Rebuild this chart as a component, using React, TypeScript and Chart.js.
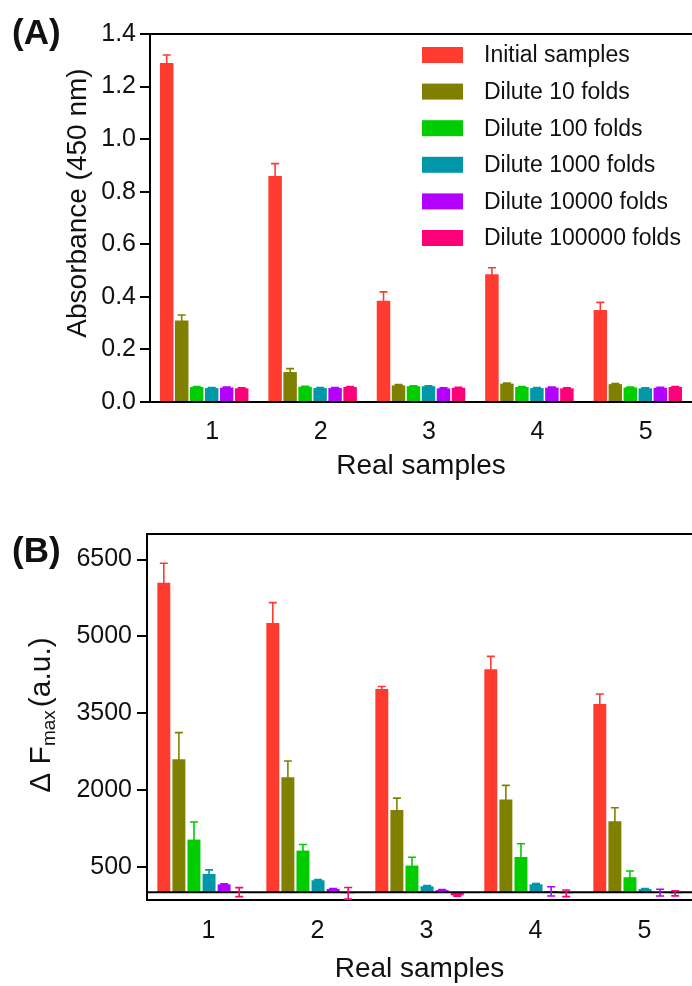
import React, { useEffect, useRef } from "react";
import { Chart, registerables } from "chart.js";

Chart.register(...registerables);

const FONT = "'Liberation Sans', Arial, Helvetica, sans-serif";

// ---------- shared ----------
const sampleLabels = ["1", "2", "3", "4", "5"];
const seriesNames = [
  "Initial samples",
  "Dilute 10 folds",
  "Dilute 100 folds",
  "Dilute 1000 folds",
  "Dilute 10000 folds",
  "Dilute 100000 folds",
];
const seriesColors = ["#ff3b30", "#808000", "#00cc00", "#0098a8", "#b400ff", "#ff0078"];

// ---------- panel (A): absorbance ----------
const absInitial = [1.29, 0.86, 0.385, 0.486, 0.35];
const absInitialErr = [0.03, 0.047, 0.034, 0.025, 0.029];
const abs10 = [0.31, 0.114, 0.063, 0.07, 0.068];
const abs10Err = [0.021, 0.013, 0.003, 0.002, 0.002];
const abs100 = [0.057, 0.058, 0.06, 0.057, 0.055];
const abs100Err = [0.002, 0.002, 0.002, 0.002, 0.002];
const abs1000 = [0.053, 0.053, 0.06, 0.053, 0.052];
const abs1000Err = [0.002, 0.002, 0.002, 0.002, 0.002];
const abs10000 = [0.055, 0.053, 0.052, 0.055, 0.054];
const abs10000Err = [0.002, 0.002, 0.002, 0.002, 0.002];
const abs100000 = [0.052, 0.057, 0.054, 0.052, 0.057];
const abs100000Err = [0.002, 0.002, 0.002, 0.002, 0.002];
const absTicks = [0, 0.2, 0.4, 0.6, 0.8, 1.0, 1.2, 1.4];

// ---------- panel (B): delta F max ----------
const fInitial = [6050, 5260, 3970, 4360, 3680];
const fInitialErr = [380, 400, 52, 250, 195];
const f10 = [2600, 2250, 1606, 1815, 1390];
const f10Err = [520, 315, 235, 275, 262];
const f100 = [1030, 816, 523, 690, 295];
const f100Err = [345, 118, 162, 260, 122];
const f1000 = [360, 235, 118, 156, 64];
const f1000Err = [78, 13, 13, 13, 8];
const f10000 = [155, 66, 45, 19, -6];
const f10000Err = [10, 10, 8, 91, 65];
const f100000 = [4, -20, -60, -20, -20];
const f100000Err = [88, 113, 15, 65, 50];
const fTicks = [500, 2000, 3500, 5000, 6500];

function makeDatasets(values: number[][], errors: number[][]) {
  return values.map((v, i) => ({
    label: seriesNames[i],
    data: v,
    errors: errors[i],
    backgroundColor: seriesColors[i],
    borderWidth: 0,
  }));
}

type Part = { text: string; size: number; shift: number; gap: number };

function makeDecor(cfg: any) {
  return {
    id: "decor",
    afterDatasetsDraw(chart: any) {
      const ctx = chart.ctx;
      const area = chart.chartArea;
      const y = chart.scales.y;
      ctx.save();
      if (cfg.zeroLine) {
        const y0 = y.getPixelForValue(0);
        ctx.strokeStyle = "#000";
        ctx.lineWidth = 2;
        ctx.beginPath();
        ctx.moveTo(area.left, y0);
        ctx.lineTo(area.right, y0);
        ctx.stroke();
      }
      ctx.beginPath();
      ctx.rect(area.left, area.top - 30, area.right - area.left, area.bottom - area.top + 30);
      ctx.clip();
      chart.data.datasets.forEach((ds: any, di: number) => {
        const meta = chart.getDatasetMeta(di);
        if (!ds.errors) return;
        meta.data.forEach((el: any, i: number) => {
          const v = ds.data[i];
          const e = ds.errors[i];
          const yt = y.getPixelForValue(v + e);
          const yb = y.getPixelForValue(v - e);
          const x = el.x;
          const c = cfg.cap;
          ctx.strokeStyle = ds.backgroundColor;
          ctx.lineWidth = 1.6;
          ctx.beginPath();
          ctx.moveTo(x, yt);
          ctx.lineTo(x, yb);
          ctx.moveTo(x - c, yt);
          ctx.lineTo(x + c, yt);
          ctx.moveTo(x - c, yb);
          ctx.lineTo(x + c, yb);
          ctx.stroke();
        });
      });
      ctx.restore();
    },
    afterDraw(chart: any) {
      const ctx = chart.ctx;
      const area = chart.chartArea;
      ctx.save();
      // top frame line
      ctx.strokeStyle = "#000";
      ctx.lineWidth = 2;
      ctx.beginPath();
      ctx.moveTo(area.left - 1, area.top);
      ctx.lineTo(chart.width, area.top);
      ctx.stroke();

      // legend
      if (cfg.legend) {
        const L = cfg.legend;
        ctx.font = `${L.size}px ${FONT}`;
        ctx.textBaseline = "middle";
        ctx.textAlign = "left";
        chart.data.datasets.forEach((ds: any, i: number) => {
          const cy = L.y + i * L.step;
          ctx.fillStyle = ds.backgroundColor;
          ctx.fillRect(L.x, cy - L.boxH / 2, L.boxW, L.boxH);
          ctx.fillStyle = "#111";
          ctx.fillText(ds.label, L.textX, cy + 1);
        });
      }

      // panel label
      ctx.fillStyle = "#111";
      ctx.font = `bold ${cfg.panel.size}px ${FONT}`;
      ctx.textBaseline = "alphabetic";
      ctx.textAlign = "left";
      ctx.fillText(cfg.panel.text, cfg.panel.x, cfg.panel.y);

      // rotated y title
      const parts: Part[] = cfg.yTitle.parts;
      let total = 0;
      const widths: number[] = [];
      for (const p of parts) {
        ctx.font = `${p.size}px ${FONT}`;
        const w = ctx.measureText(p.text).width;
        widths.push(w);
        total += w + p.gap;
      }
      const cy = (area.top + area.bottom) / 2 + cfg.yTitle.dy;
      ctx.translate(cfg.yTitle.x, cy);
      ctx.rotate(-Math.PI / 2);
      let px = -total / 2;
      parts.forEach((p, i) => {
        ctx.font = `${p.size}px ${FONT}`;
        ctx.fillStyle = "#111";
        ctx.textBaseline = "alphabetic";
        ctx.textAlign = "left";
        ctx.fillText(p.text, px, p.shift);
        px += widths[i] + p.gap;
      });
      ctx.restore();
    },
  };
}

function baseOptions(cfg: any) {
  return {
    responsive: false,
    animation: false,
    devicePixelRatio: 1,
    layout: { padding: { top: cfg.top, left: 0, right: 0, bottom: 0 } },
    plugins: {
      legend: { display: false },
      tooltip: { enabled: false },
    },
    datasets: {
      bar: { categoryPercentage: cfg.catPct, barPercentage: cfg.barPct },
    },
    scales: {
      x: {
        type: "category",
        offset: true,
        afterFit: (s: any) => {
          s.height = cfg.xHeight;
        },
        grid: { display: false, drawTicks: false },
        border: { display: true, color: "#000", width: 2 },
        ticks: {
          color: "#111",
          font: { family: FONT, size: 25 },
          padding: cfg.xTickPad,
          labelOffset: cfg.labelOffset,
          maxRotation: 0,
        },
        title: {
          display: true,
          text: "Real samples",
          color: "#111",
          font: { family: FONT, size: 28 },
          padding: { top: 0, bottom: cfg.xTitlePad },
        },
      },
      y: {
        type: "linear",
        min: cfg.yMin,
        max: cfg.yMax,
        afterFit: (s: any) => {
          s.width = cfg.yWidth;
        },
        afterBuildTicks: (s: any) => {
          s.ticks = cfg.ticks.map((v: number) => ({ value: v }));
        },
        grid: {
          display: true,
          drawOnChartArea: false,
          drawTicks: true,
          tickLength: 10,
          color: "#000",
          lineWidth: 2,
        },
        border: { display: true, color: "#000", width: 2 },
        ticks: {
          color: "#111",
          font: { family: FONT, size: 25 },
          padding: cfg.yTickPad,
          callback: cfg.fmt,
        },
      },
    },
  };
}

function Panel(props: { height: number; build: () => any }) {
  const ref = useRef<HTMLCanvasElement | null>(null);
  useEffect(() => {
    if (!ref.current) return;
    const chart = new Chart(ref.current, props.build());
    return () => chart.destroy();
  }, []);
  return <canvas ref={ref} width={692} height={props.height} style={{ display: "block" }} />;
}

function buildA() {
  return {
    type: "bar",
    data: {
      labels: sampleLabels,
      datasets: makeDatasets(
        [absInitial, abs10, abs100, abs1000, abs10000, abs100000],
        [absInitialErr, abs10Err, abs100Err, abs1000Err, abs10000Err, abs100000Err]
      ),
    },
    options: baseOptions({
      top: 34,
      xHeight: 88,
      yWidth: 150,
      yMin: 0,
      yMax: 1.4,
      ticks: absTicks,
      fmt: (v: any) => Number(v).toFixed(1),
      catPct: 0.83,
      barPct: 0.9,
      xTickPad: 15,
      labelOffset: 8,
      xTitlePad: 7,
      yTickPad: 4,
    }),
    plugins: [
      makeDecor({
        zeroLine: false,
        cap: 4,
        legend: { x: 422, y: 55, step: 36.6, boxW: 41, boxH: 16, textX: 484, size: 23 },
        panel: { text: "(A)", x: 12, y: 44, size: 35 },
        yTitle: { x: 86, dy: -15, parts: [{ text: "Absorbance (450 nm)", size: 28, shift: 0, gap: 0 }] },
      }),
    ],
  };
}

function buildB() {
  return {
    type: "bar",
    data: {
      labels: sampleLabels,
      datasets: makeDatasets(
        [fInitial, f10, f100, f1000, f10000, f100000],
        [fInitialErr, f10Err, f100Err, f1000Err, f10000Err, f100000Err]
      ),
    },
    options: baseOptions({
      top: 44,
      xHeight: 86,
      yWidth: 147,
      yMin: -150,
      yMax: 7000,
      ticks: fTicks,
      fmt: (v: any) => String(v),
      catPct: 0.83,
      barPct: 0.86,
      xTickPad: 16,
      labelOffset: 7,
      xTitlePad: 0,
      yTickPad: 5,
    }),
    plugins: [
      makeDecor({
        zeroLine: true,
        cap: 4,
        legend: null,
        panel: { text: "(B)", x: 12, y: 72, size: 35 },
        yTitle: {
          x: 50,
          dy: -2,
          parts: [
            { text: "\u0394 F", size: 30, shift: 0, gap: 0 },
            { text: "max", size: 19, shift: 5, gap: 3 },
            { text: "(a.u.)", size: 30, shift: 0, gap: 0 },
          ],
        },
      }),
    ],
  };
}

export default function App() {
  return (
    <div style={{ position: "absolute", left: 0, top: 0, width: 692, height: 986, background: "#fff" }}>
      <Panel height={490} build={buildA} />
      <Panel height={496} build={buildB} />
    </div>
  );
}
